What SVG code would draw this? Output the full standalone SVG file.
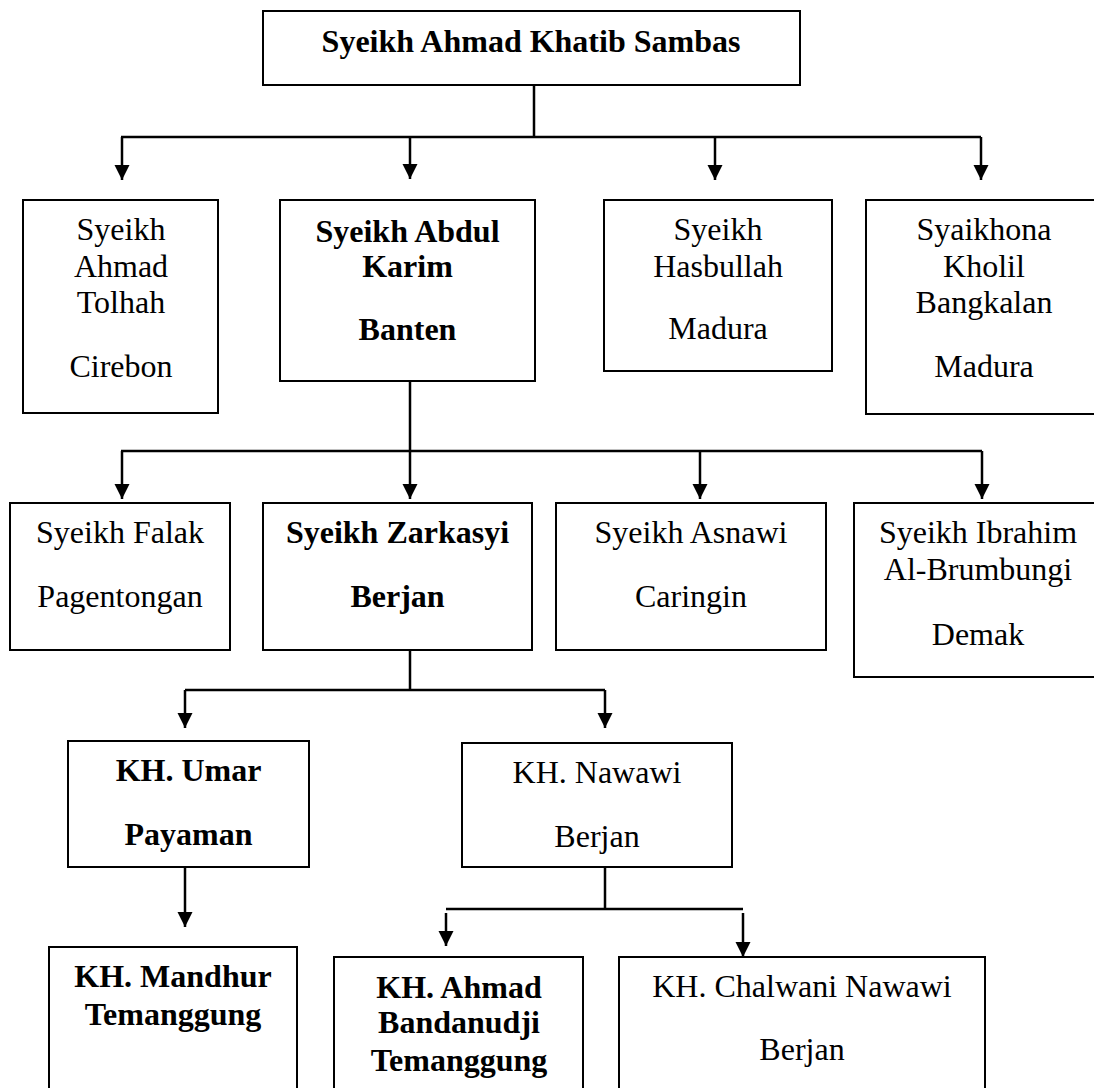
<svg xmlns="http://www.w3.org/2000/svg" width="1094" height="1088" viewBox="0 0 1094 1088">
<style>
.box{fill:#fff;stroke:#000;stroke-width:2}
.t{font-family:"Liberation Serif","Times New Roman",serif;font-size:32px;fill:#000;text-anchor:middle}
.b{font-weight:bold}
.c{fill:none;stroke:#000;stroke-width:2.5}
</style>
<defs>
<marker id="ah" markerUnits="userSpaceOnUse" markerWidth="16" markerHeight="16" refX="15" refY="7.5" orient="auto">
<path d="M0,0 L15,7.5 L0,15 z" fill="#000"/>
</marker>
</defs>
<rect width="1094" height="1088" fill="#fff"/>
<g id="connectors">
<path class="c" d="M534,85 V137 M121,137 H981"/>
<path class="c" d="M122,137 V180" marker-end="url(#ah)"/>
<path class="c" d="M410,137 V179" marker-end="url(#ah)"/>
<path class="c" d="M715,137 V180" marker-end="url(#ah)"/>
<path class="c" d="M981,137 V180" marker-end="url(#ah)"/>
<path class="c" d="M410,381 V451 M121,451 H982"/>
<path class="c" d="M122,451 V499" marker-end="url(#ah)"/>
<path class="c" d="M410,451 V499" marker-end="url(#ah)"/>
<path class="c" d="M700,451 V499" marker-end="url(#ah)"/>
<path class="c" d="M982,451 V499" marker-end="url(#ah)"/>
<path class="c" d="M410,650 V690 M185,690 H605"/>
<path class="c" d="M185,690 V728" marker-end="url(#ah)"/>
<path class="c" d="M605,690 V728" marker-end="url(#ah)"/>
<path class="c" d="M185,867 V927" marker-end="url(#ah)"/>
<path class="c" d="M605,867 V909 M446,909 H743"/>
<path class="c" d="M446,913 V946" marker-end="url(#ah)"/>
<path class="c" d="M743,913 V957" marker-end="url(#ah)"/>
</g>
<g id="n-sambas">
<rect class="box" x="263" y="11" width="537" height="74"/>
<text class="t b" x="531" y="52">Syeikh Ahmad Khatib Sambas</text>
</g>
<g id="n-tolhah">
<rect class="box" x="23" y="200" width="195" height="213"/>
<text class="t" x="121" y="240">Syeikh</text>
<text class="t" x="121" y="277">Ahmad</text>
<text class="t" x="121" y="313">Tolhah</text>
<text class="t" x="121" y="377">Cirebon</text>
</g>
<g id="n-karim">
<rect class="box" x="280" y="200" width="255" height="181"/>
<text class="t b" x="407.5" y="242">Syeikh Abdul</text>
<text class="t b" x="407.5" y="277">Karim</text>
<text class="t b" x="407.5" y="340">Banten</text>
</g>
<g id="n-hasbullah">
<rect class="box" x="604" y="200" width="228" height="171"/>
<text class="t" x="718" y="240">Syeikh</text>
<text class="t" x="718" y="277">Hasbullah</text>
<text class="t" x="718" y="339">Madura</text>
</g>
<g id="n-kholil">
<rect class="box" x="866" y="200" width="240" height="214"/>
<text class="t" x="984" y="240">Syaikhona</text>
<text class="t" x="984" y="277">Kholil</text>
<text class="t" x="984" y="313">Bangkalan</text>
<text class="t" x="984" y="377">Madura</text>
</g>
<g id="n-falak">
<rect class="box" x="10" y="503" width="220" height="147"/>
<text class="t" x="120" y="543">Syeikh Falak</text>
<text class="t" x="120" y="607">Pagentongan</text>
</g>
<g id="n-zarkasyi">
<rect class="box" x="263" y="503" width="269" height="147"/>
<text class="t b" x="397.5" y="543">Syeikh Zarkasyi</text>
<text class="t b" x="397.5" y="607">Berjan</text>
</g>
<g id="n-asnawi">
<rect class="box" x="556" y="503" width="270" height="147"/>
<text class="t" x="691" y="543">Syeikh Asnawi</text>
<text class="t" x="691" y="607">Caringin</text>
</g>
<g id="n-ibrahim">
<rect class="box" x="854" y="503" width="250" height="174"/>
<text class="t" x="978" y="543">Syeikh Ibrahim</text>
<text class="t" x="978" y="580">Al-Brumbungi</text>
<text class="t" x="978" y="645">Demak</text>
</g>
<g id="n-umar">
<rect class="box" x="68" y="741" width="241" height="126"/>
<text class="t b" x="188.5" y="781">KH. Umar</text>
<text class="t b" x="188.5" y="845">Payaman</text>
</g>
<g id="n-nawawi">
<rect class="box" x="462" y="743" width="270" height="124"/>
<text class="t" x="597" y="783">KH. Nawawi</text>
<text class="t" x="597" y="847">Berjan</text>
</g>
<g id="n-mandhur">
<rect class="box" x="49" y="947" width="248" height="160"/>
<text class="t b" x="173" y="987">KH. Mandhur</text>
<text class="t b" x="173" y="1025">Temanggung</text>
</g>
<g id="n-bandanudji">
<rect class="box" x="334" y="957" width="249" height="150"/>
<text class="t b" x="459" y="998">KH. Ahmad</text>
<text class="t b" x="459" y="1033">Bandanudji</text>
<text class="t b" x="459" y="1071">Temanggung</text>
</g>
<g id="n-chalwani">
<rect class="box" x="619" y="957" width="366" height="150"/>
<text class="t" x="802" y="997">KH. Chalwani Nawawi</text>
<text class="t" x="802" y="1060">Berjan</text>
</g>
</svg>
